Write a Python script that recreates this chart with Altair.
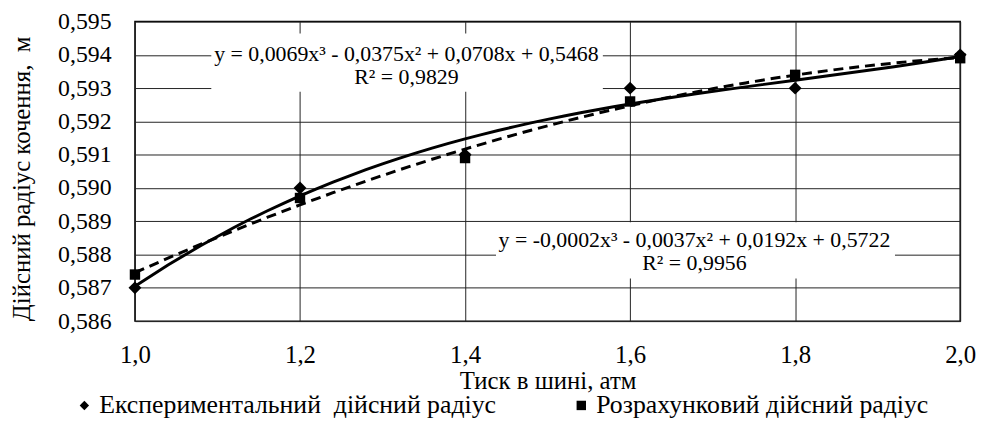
import altair as alt
import pandas as pd

# ---- data ----
pressure = [1.0, 1.2, 1.4, 1.6, 1.8, 2.0]
experimental = [0.5870, 0.5900, 0.5910, 0.5930, 0.5930, 0.5940]
calculated = [0.5874, 0.5897, 0.5909, 0.5926, 0.5934, 0.5939]

series_names = ["Експериментальний\u00a0 дійсний радіус", "Розрахунковий дійсний радіус"]

x_ticks = [1.0, 1.2, 1.4, 1.6, 1.8, 2.0]
y_ticks = [0.586, 0.587, 0.588, 0.589, 0.590, 0.591, 0.592, 0.593, 0.594, 0.595]

# trend-line equation labels (as shown in the chart)
eq_text = [
    ["y = 0,0069x³ - 0,0375x² + 0,0708x + 0,5468", "R² = 0,9829"],
    ["y = -0,0002x³ - 0,0037x² + 0,0192x + 0,5722", "R² = 0,9956"],
]
eq_x = [1.329, 1.678]
eq_y = [0.59402, 0.58844]
box_x = [1.0925, 1.4375]
box_x2 = [1.567, 1.921]
box_y = [0.59464, 0.58897]
box_y2 = [0.59289, 0.58728]

FONT = "Liberation Serif, Times New Roman, serif"

df = pd.DataFrame({
    "x": pressure * 2,
    "y": experimental + calculated,
    "series": [series_names[0]] * len(pressure) + [series_names[1]] * len(pressure),
})
labels_df = pd.DataFrame({"x": eq_x, "y": eq_y, "text": eq_text})
boxes_df = pd.DataFrame({"x": box_x, "x2": box_x2, "y": box_y, "y2": box_y2})

xscale = alt.Scale(domain=[1.0, 2.0], nice=False, zero=False)
yscale = alt.Scale(domain=[0.586, 0.595], nice=False, zero=False)

xaxis = alt.Axis(values=x_ticks, labelExpr="replace(format(datum.value, '.1f'), '.', ',')",
                 title="Тиск в шині, атм", grid=True, ticks=False, domain=False,
                 labelPadding=22, titlePadding=1, labelOverlap=False, labelFlush=False,
                 labelFont=FONT, labelFontSize=25, labelColor="black",
                 titleFont=FONT, titleFontSize=25, titleColor="black", titleFontWeight="normal",
                 gridColor="#222222", gridWidth=1, gridOpacity=1)
yaxis = alt.Axis(values=y_ticks, labelExpr="replace(format(datum.value, '.3f'), '.', ',')",
                 title="Дійсний радіус кочення,\u00a0 м", grid=True, ticks=False, domain=False,
                 labelPadding=24, titlePadding=23, labelOverlap=False, labelFlush=False, titleY=158,
                 labelFont=FONT, labelFontSize=24, labelColor="black",
                 titleFont=FONT, titleFontSize=25, titleColor="black", titleFontWeight="normal",
                 gridColor="#222222", gridWidth=1, gridOpacity=1)

X = alt.X("x:Q", scale=xscale, axis=xaxis)
Y = alt.Y("y:Q", scale=yscale, axis=yaxis)

base = alt.Chart(df)

boxes = alt.Chart(boxes_df).mark_rect(fill="white", strokeWidth=0).encode(
    x=X, x2="x2:Q", y=Y, y2="y2:Q",
)

trend_exp = base.transform_filter(
    alt.datum.series == series_names[0]
).transform_regression("x", "y", method="poly", order=3, extent=[1.0, 2.0]).mark_line(
    color="black", strokeWidth=3
).encode(x=X, y=Y)

trend_calc = base.transform_filter(
    alt.datum.series == series_names[1]
).transform_regression("x", "y", method="poly", order=3, extent=[1.0, 2.0]).mark_line(
    color="black", strokeWidth=3, strokeDash=[10, 6]
).encode(x=X, y=Y)

legend = alt.Legend(title=None, orient="none", direction="horizontal",
                    legendX=-64, legendY=374, columnPadding=72,
                    labelFont=FONT, labelFontSize=26, labelColor="black",
                    labelLimit=700, symbolFillColor="black", symbolSize=90,
                    symbolStrokeColor="black", labelOffset=2, padding=0)

shape = alt.Shape("series:N", scale=alt.Scale(domain=series_names, range=["diamond", "square"]),
                  legend=legend)

points_exp = base.transform_filter(alt.datum.series == series_names[0]).mark_point(
    filled=True, color="black", opacity=1, size=170
).encode(x=X, y=Y, shape=shape)

points_calc = base.transform_filter(alt.datum.series == series_names[1]).mark_point(
    filled=True, color="black", opacity=1, size=110
).encode(x=X, y=Y, shape=shape)

texts = alt.Chart(labels_df).mark_text(
    font=FONT, fontSize=22, color="black", align="center", baseline="middle", lineHeight=23
).encode(x=X, y=Y, text="text")

chart = alt.layer(boxes, trend_calc, trend_exp, points_calc, points_exp, texts).properties(
    width=832, height=302,
    background="white",
    autosize=alt.AutoSizeParams(type="none"),
    padding={"left": 128, "top": 12, "right": 22, "bottom": 100},
).configure_view(
    stroke="black", strokeWidth=1.5
)

chart.save("out.html", embed_options={"renderer": "svg", "actions": False})
